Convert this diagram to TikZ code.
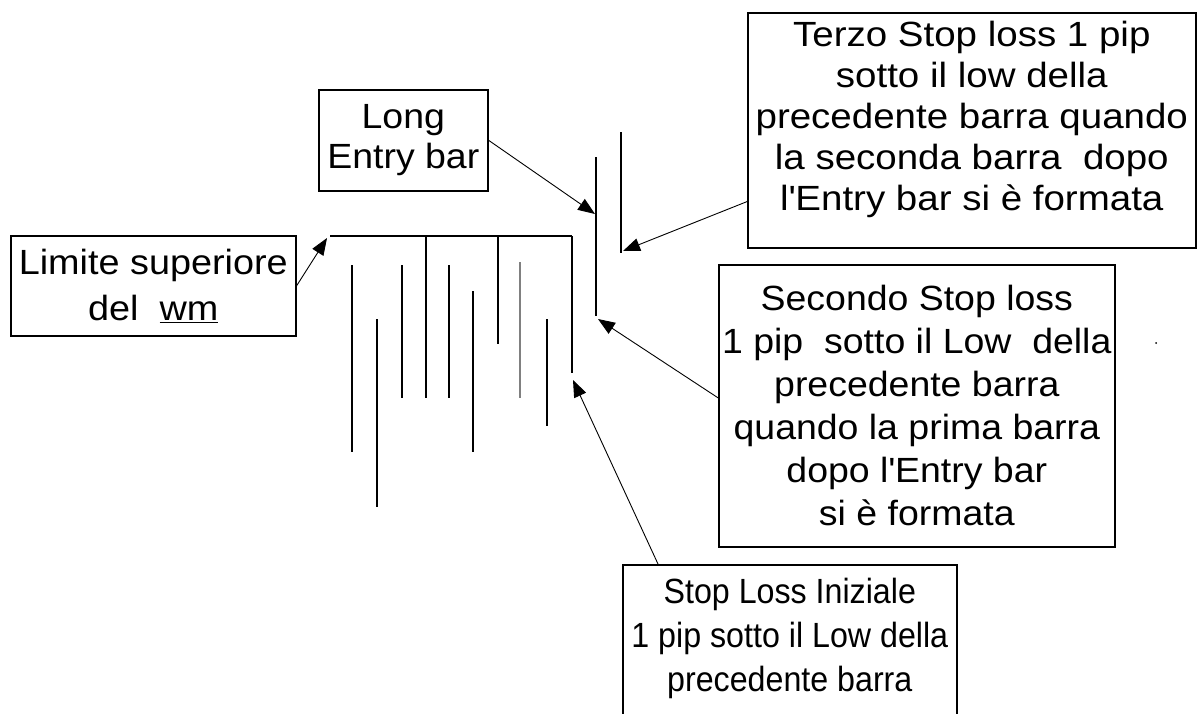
\documentclass[tikz,border=0pt]{standalone}
\usepackage{fontspec}
\setmainfont{Liberation Sans}
\usetikzlibrary{arrows.meta, calc}

\tikzset{
    note/.style={draw, line width=1.6pt, inner sep=0pt, align=center, anchor=north west,
                 font=\fontsize{35pt}{41pt}\selectfont},
    bar/.style={line width=1.6pt},
    pointer/.style={line width=0.9pt, -{Triangle[length=17pt,width=13pt]}},
}
\newcommand{\wide}[1]{\addfontfeature{FakeStretch=#1}}

\begin{document}
\begin{tikzpicture}[x=1pt, y=-1pt]
    \useasboundingbox (0,0) rectangle (1197,713);

    % the boxes
    \node[note, minimum width=285pt, minimum height=100pt, font=\fontsize{35pt}{46pt}\selectfont\wide{1.08}]
        (lim) at (10,235) {Limite superiore\\del \ \underline{wm}};
    \node[note, minimum width=169pt, minimum height=101pt, font=\fontsize{35pt}{40pt}\selectfont\wide{1.07}]
        (entrybox) at (318,89) {Long\\Entry bar};
    \node[note, minimum width=448pt, minimum height=235pt, inner ysep=0pt, font=\fontsize{35pt}{41pt}\selectfont\wide{1.10}]
        (terzo) at (747,12) {Terzo Stop loss 1 pip\\sotto il low della\\precedente barra quando\\la seconda barra \ dopo\\l\textquotesingle Entry bar si è formata\\[-12pt]};
    \node[note, minimum width=396pt, minimum height=282pt, font=\fontsize{35pt}{43pt}\selectfont\wide{1.07}]
        (secondo) at (718,264) {Secondo Stop loss\\1 pip \ sotto il Low \ della\\precedente barra\\quando la prima barra\\dopo l\textquotesingle Entry bar\\si è formata};
    \node[note, minimum width=334pt, inner ysep=13pt, font=\fontsize{35pt}{44pt}\selectfont\wide{0.92}]
        (iniziale) at (622,564) {Stop Loss Iniziale\\1 pip sotto il Low della\\precedente barra\\ \\ \ };

    % the bars
    \draw[bar] (330,236) -- (572,236);
    \draw[bar] (352,265) -- (352,452);
    \draw[bar] (377,319) -- (377,507);
    \draw[bar] (402,265) -- (402,398);
    \draw[bar] (426,236) -- (426,398);
    \draw[bar] (449,265) -- (449,398);
    \draw[bar] (473,291) -- (473,452);
    \draw[bar] (498,236) -- (498,344);
    \draw[bar, gray] (520,262) -- (520,398);
    \draw[bar] (547,319) -- (547,426);
    \draw[bar] (572,236) -- (572,373);
    \draw[bar] (596,157) -- (596,316); % entry bar
    \draw[bar] (621,132) -- (621,253);

    \coordinate (top) at (327,238);
    \coordinate (entry) at (595,214);
    \coordinate (third) at (623,251);
    \coordinate (second) at (598,319);
    \coordinate (first) at (573,380);

    % the pointers
    \draw[pointer] (lim.east) -- (top);
    \draw[pointer] (entrybox.east) -- (entry);
    \draw[pointer] ($(terzo.south west)+(0,-47)$) -- (third);
    \draw[pointer] ($(secondo.west)+(0,-8)$) -- (second);
    \draw[pointer] ($(iniziale.north west)+(36,0)$) -- (first);

    \fill (1156,343) circle (1pt);
\end{tikzpicture}
\end{document}
